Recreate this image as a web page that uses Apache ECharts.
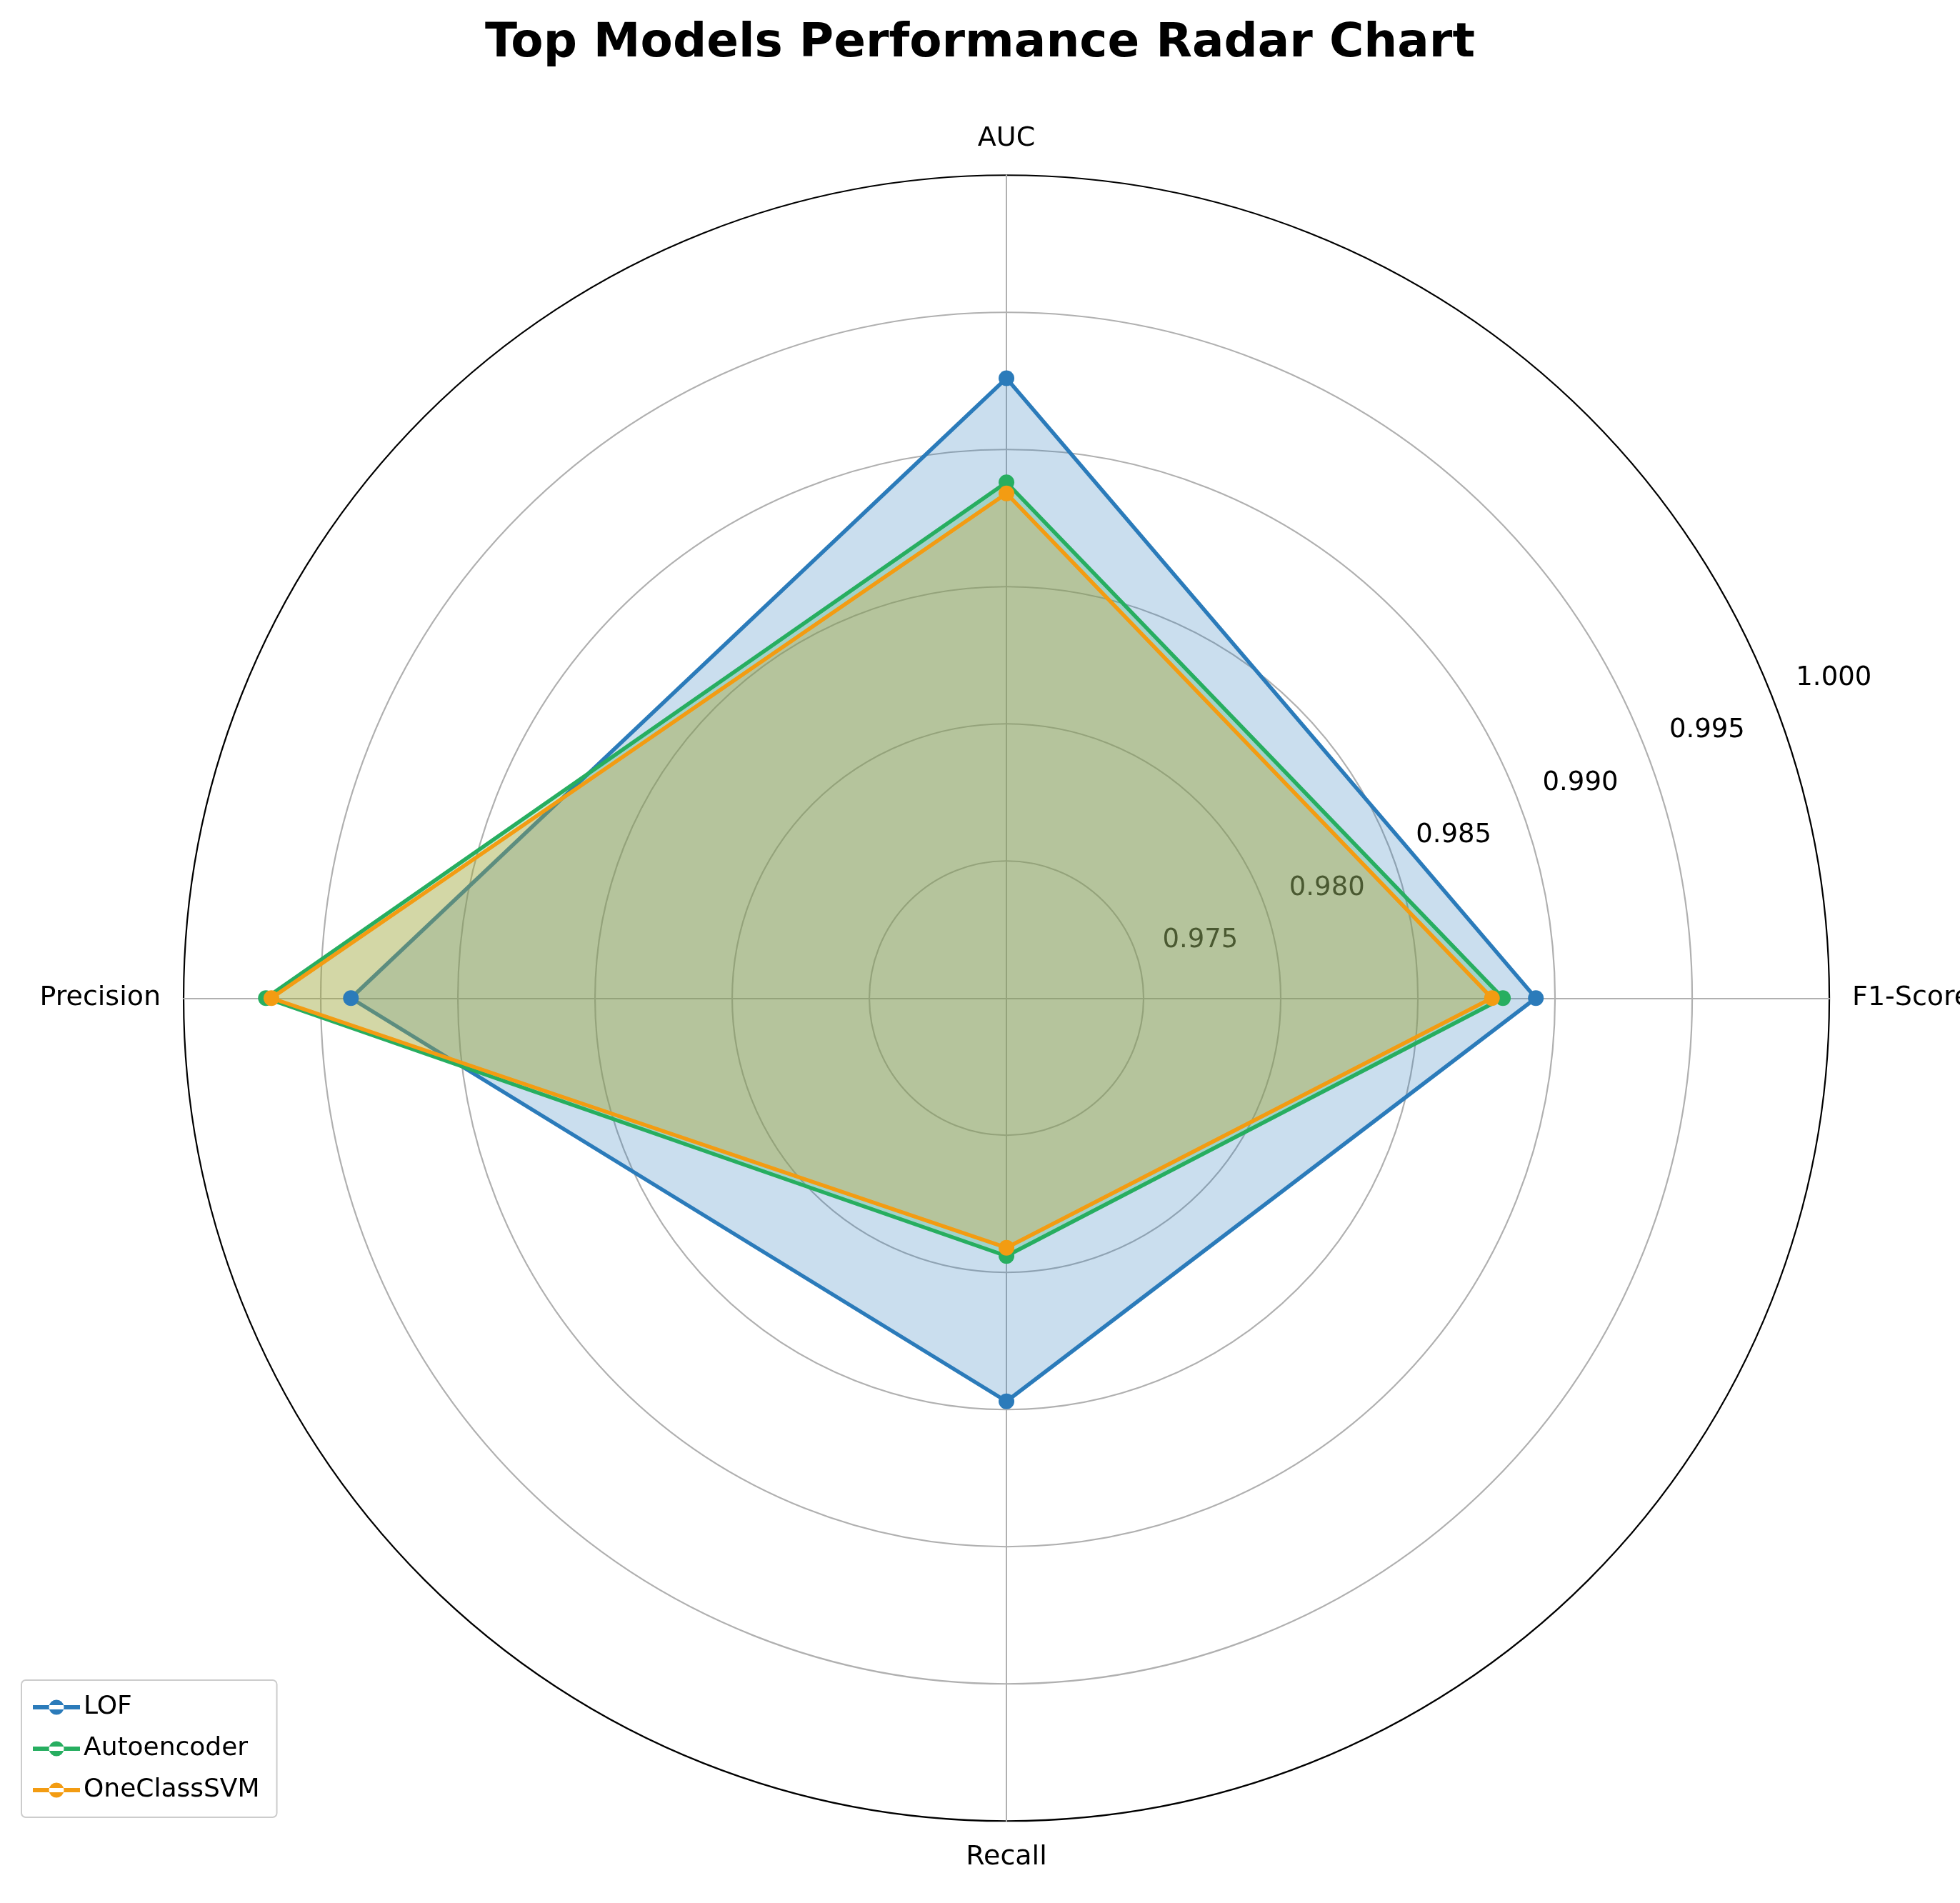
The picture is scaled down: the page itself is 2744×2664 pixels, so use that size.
<!DOCTYPE html>
<html>
<head>
<meta charset="utf-8" />
<script src="https://cdn.jsdelivr.net/npm/echarts@6/dist/echarts.min.js"></script>
<style>html,body{margin:0;background:#fff;}#chart{width:2744px;height:2664px;}</style>
</head>
<body>
<div id="chart"></div>
<script>
// radar axes, counterclockwise from the top
var metrics = ['AUC', 'Precision', 'Recall', 'F1-Score'];
var models = ['LOF', 'Autoencoder', 'OneClassSVM'];
var lofVals = [0.9926, 0.9939, 0.9847, 0.9893];
var aeVals = [0.9888, 0.9970, 0.9794, 0.9881];
var svmVals = [0.9884, 0.9968, 0.9791, 0.9877];
var ticks = [0.975, 0.980, 0.985, 0.990, 0.995, 1.000];
var colors = ['#2b7bba', '#27ae60', '#f39c12'];

var chart = echarts.init(document.getElementById('chart'));
var center = ['51.35%', '52.45%'];
var radius = 1152;
var allVals = [lofVals, aeVals, svmVals];
var g = '#b0b0b0';
var legendIcon = 'path://M0,8h44v4H0z M22,3a7,7 0 1,0 0.01,0z';

chart.setOption({
  title: {
    text: 'Top Models Performance Radar Chart',
    left: 'center', top: 24,
    textStyle: {fontFamily: 'DejaVu Sans', fontWeight: 'bold', fontSize: 66, color: '#000'}
  },
  legend: {
    data: models.map(function (m) { return {name: m, icon: legendIcon}; }),
    orient: 'vertical', left: 30, bottom: 120,
    itemWidth: 66, itemHeight: 22, itemGap: 22,
    padding: [20, 24, 20, 16],
    borderColor: '#ccc', borderWidth: 2, borderRadius: 6,
    textStyle: {fontFamily: 'DejaVu Sans', fontSize: 36, color: '#000'}
  },
  radar: {
    center: center, radius: radius, shape: 'circle', startAngle: 90,
    splitNumber: 6,
    indicator: metrics.map(function (m) { return {name: m, min: 0.97, max: 1.0}; }),
    axisName: {color: '#000', fontFamily: 'DejaVu Sans', fontSize: 38},
    nameGap: 32,
    splitArea: {show: false},
    axisLine: {lineStyle: {color: g, width: 2}},
    splitLine: {lineStyle: {color: [g, g, g, g, g, g, '#000'], width: 2.2}},
    axisLabel: {show: false}
  },
  polar: {center: center, radius: radius},
  angleAxis: {startAngle: 22.5, show: false, min: 0, max: 360},
  radiusAxis: {
    min: 0.97, max: 1.0, interval: 0.005,
    axisLine: {show: false}, axisTick: {show: false}, splitLine: {show: false},
    axisLabel: {
      fontFamily: 'DejaVu Sans', fontSize: 37, color: '#000',
      align: 'center', padding: [0, 0, 80, 194],
      formatter: function (v) { return ticks.indexOf(+(+v).toFixed(3)) >= 0 ? (+v).toFixed(3) : ''; }
    }
  },
  series: [{
    type: 'radar',
    symbol: 'circle', symbolSize: 22,
    data: models.map(function (m, i) {
      return {
        name: m, value: allVals[i],
        itemStyle: {color: colors[i]},
        lineStyle: {color: colors[i], width: 5.5},
        areaStyle: {color: colors[i], opacity: 0.25}
      };
    })
  }]
});
</script>
</body>
</html>
